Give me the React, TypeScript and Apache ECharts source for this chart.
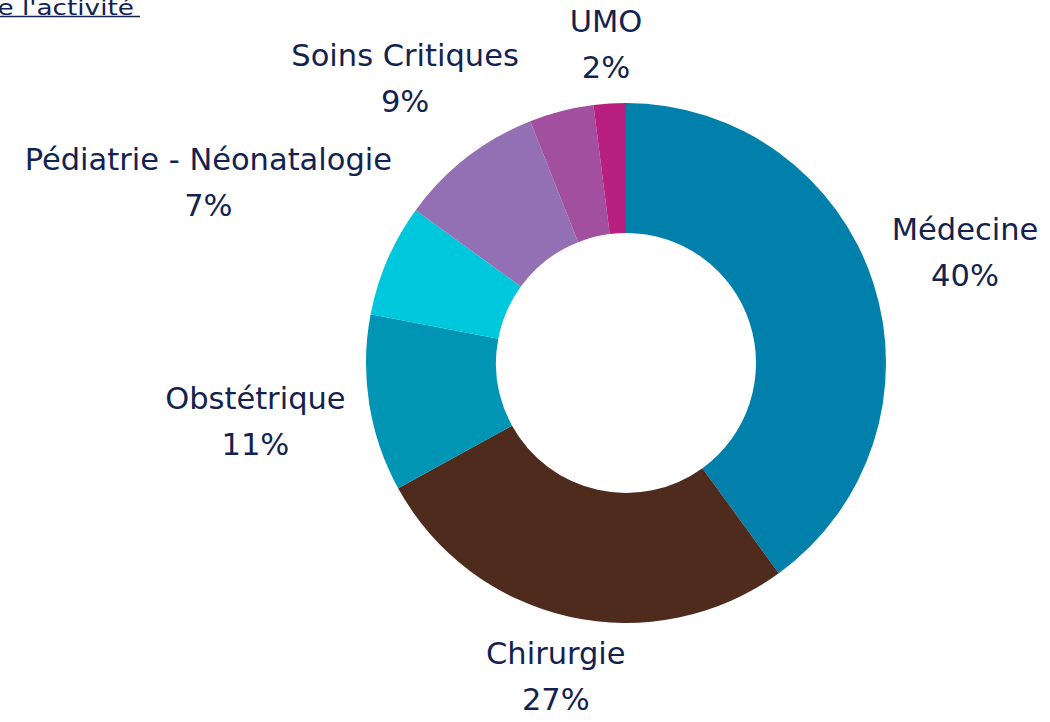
import React, { useEffect, useRef } from "react";
import * as echarts from "echarts";

const categories = ["Médecine", "Chirurgie", "Obstétrique", "Pédiatrie - Néonatalogie", "Soins Critiques", "Autres", "UMO"];
const values = [40, 27, 11, 7, 9, 4, 2];
const showLabel = [true, true, true, true, true, false, true];
const colors = ["#0080ab", "#4e2b1d", "#0095b5", "#00c8dc", "#9370b4", "#a14f9e", "#b81f7e"];

const CX = 626;
const CY = 363;
const R_IN = 130;
const R_OUT = 260;
const GAP = 26;
const TEXT = "#13224f";
const FONT = "DejaVu Sans";

export default function App() {
  const ref = useRef<HTMLDivElement>(null);
  useEffect(() => {
    document.body.style.margin = "0";
    if (!ref.current) return;
    const chart = echarts.init(ref.current, null, { renderer: "svg" });
    const total = values.reduce((a, b) => a + b, 0);
    const mids: number[] = [];
    let cum = 0;
    values.forEach((v) => {
      mids.push(((cum + v / 2) / total) * Math.PI * 2);
      cum += v;
    });
    chart.setOption({
      animation: false,
      backgroundColor: "#ffffff",
      graphic: [
        {
          type: "text",
          x: 0,
          y: 0,
          scaleX: 1.25,
          style: {
            x: -2,
            y: 18,
            text: "e l'activité",
            fill: TEXT,
            fontSize: 21,
            fontFamily: FONT,
            verticalAlign: "bottom",
          },
        },
        {
          type: "line",
          shape: { x1: 0, y1: 16.5, x2: 140, y2: 16.5 },
          style: { stroke: TEXT, lineWidth: 1.5 },
        },
      ],
      series: [
        {
          type: "pie",
          center: [CX, CY],
          radius: [R_IN, R_OUT],
          startAngle: 90,
          clockwise: true,
          avoidLabelOverlap: false,
          label: {
            show: true,
            position: "outside",
            formatter: (p: any) => `${p.name}\n${p.value}%`,
            color: TEXT,
            fontFamily: FONT,
            fontSize: 30.5,
            lineHeight: 46,
            align: "center",
          },
          labelLine: { show: false },
          labelLayout: (p: any) => {
            const th = mids[p.dataIndex];
            const dx = Math.sin(th);
            const dy = -Math.cos(th);
            const w = p.labelRect.width;
            const h = p.labelRect.height;
            const t = Math.sqrt((w / 2 * dx) ** 2 + (h / 2 * 0.72 * dy) ** 2);
            const d = R_OUT + GAP + t;
            return { x: CX + d * dx, y: CY + d * dy, align: "center", verticalAlign: "middle" };
          },
          emphasis: { disabled: true },
          data: categories.map((c, i) => ({
            name: c,
            value: values[i],
            itemStyle: { color: colors[i] },
            label: { show: showLabel[i] },
          })),
        },
      ],
    });
    return () => chart.dispose();
  }, []);
  return <div ref={ref} style={{ width: 1050, height: 722 }} />;
}
